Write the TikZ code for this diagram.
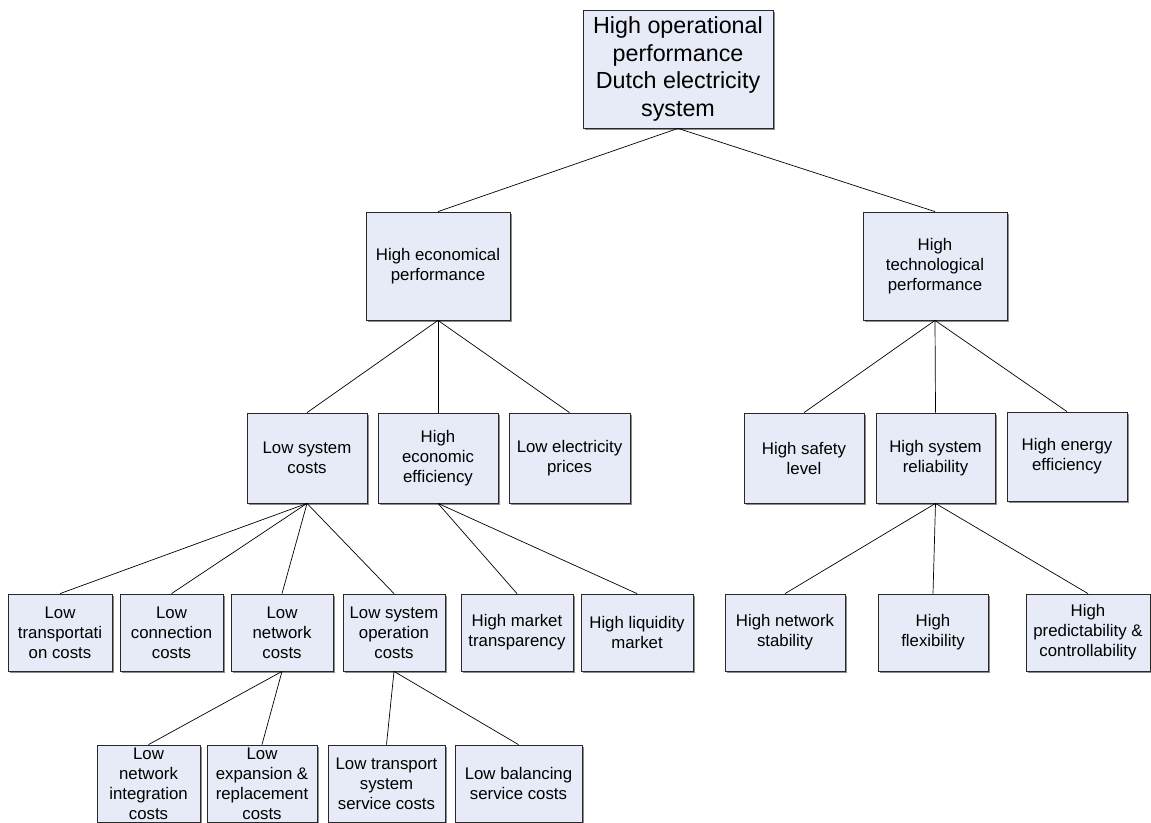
\documentclass[tikz,border=0pt]{standalone}
\usepackage{fontspec}
\setmainfont{Liberation Sans}
\usetikzlibrary{shadows}
\definecolor{boxfill}{RGB}{230,235,247}
\definecolor{boxline}{RGB}{40,40,40}
\begin{document}
\begin{tikzpicture}[x=1pt,y=-1pt,
  goal/.style={draw=boxline,line width=0.8pt,fill=boxfill,align=center,
    inner xsep=1pt,inner ysep=0pt,
    font=\fontsize{16.8}{20}\selectfont,
    drop shadow={shadow xshift=1.5pt,shadow yshift=-1.5pt,fill=black!45,opacity=1}},
  link/.style={draw=black,line width=0.7pt}]
\useasboundingbox (0,0) rectangle (1151,822);
\clip (0,0) rectangle (1151,822);
% top goal
\node[goal,minimum width=190pt,minimum height=118pt,
  font=\fontsize{23.3}{27.5}\selectfont] (root) at (678,69)
  {High operational\\performance\\Dutch electricity\\system};
% second level
\node[goal,minimum width=144pt,minimum height=108pt] (econ) at (438,266) {High economical\\performance};
\node[goal,minimum width=144pt,minimum height=108pt] (tech) at (935,266) {High\\technological\\performance};
% third level
\node[goal,minimum width=120pt,minimum height=90pt] (syscost) at (307,458) {Low system\\costs};
\node[goal,minimum width=120pt,minimum height=90pt] (ecoeff) at (438,458) {High\\economic\\efficiency};
\node[goal,minimum width=121pt,minimum height=90pt] (prices) at (569.5,458) {Low electricity\\prices};
\node[goal,minimum width=120pt,minimum height=90pt] (safety) at (804,458) {High safety\\level};
\node[goal,minimum width=119pt,minimum height=90pt] (reliab) at (935.5,458) {High system\\reliability};
\node[goal,minimum width=120pt,minimum height=89pt] (energy) at (1067,456.5) {High energy\\efficiency};
% fourth level
\node[goal,minimum width=104pt,minimum height=77pt] (transp) at (60,632.5) {Low\\transportati\\on costs};
\node[goal,minimum width=103pt,minimum height=77pt] (connect) at (171.5,632.5) {Low\\connection\\costs};
\node[goal,minimum width=102pt,minimum height=77pt] (network) at (282,632.5) {Low\\network\\costs};
\node[goal,minimum width=102pt,minimum height=77pt] (sysop) at (394,632.5) {Low system\\operation\\costs};
\node[goal,minimum width=112pt,minimum height=77pt] (transpar) at (517,632.5) {High market\\transparency};
\node[goal,minimum width=112pt,minimum height=77pt] (liquid) at (637,632.5) {High liquidity\\market};
\node[goal,minimum width=120pt,minimum height=77pt] (stabil) at (785,632.5) {High network\\stability};
\node[goal,minimum width=110pt,minimum height=77pt] (flex) at (933,632.5) {High\\flexibility};
\node[goal,minimum width=124pt,minimum height=77pt] (predict) at (1088,632.5) {High\\predictability \&\\controllability};
% fifth level
\node[goal,minimum width=103pt,minimum height=77pt] (integr) at (148.5,783.5) {Low\\network\\integration\\costs};
\node[goal,minimum width=110pt,minimum height=77pt] (expans) at (262,783.5) {Low\\expansion \&\\replacement\\costs};
\node[goal,minimum width=117pt,minimum height=77pt] (tsservice) at (386.5,783.5) {Low transport\\system\\service costs};
\node[goal,minimum width=127pt,minimum height=77pt] (balance) at (518.5,783.5) {Low balancing\\service costs};
% connectors
\foreach \p/\c in {root/econ,root/tech,
  econ/syscost,econ/ecoeff,econ/prices,
  tech/safety,tech/reliab,tech/energy,
  syscost/transp,syscost/connect,syscost/network,syscost/sysop,
  ecoeff/transpar,ecoeff/liquid,
  reliab/stabil,reliab/flex,reliab/predict,
  network/integr,network/expans,
  sysop/tsservice,sysop/balance}
  \draw[link] (\p.south) -- (\c.north);
\end{tikzpicture}
\end{document}
